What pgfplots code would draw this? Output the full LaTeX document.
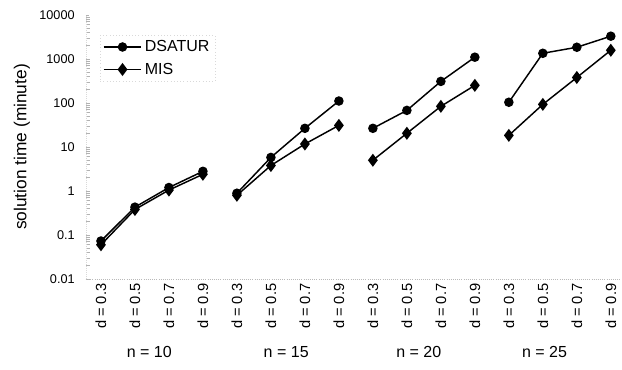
\documentclass[border=0pt]{standalone}
\usepackage{pgfplots}
\pgfplotsset{compat=1.18}
\usepackage{pgfplotstable}
\usepackage{fontspec}
\setmainfont{Liberation Sans}

\pgfplotstableread{
x dsatur mis
0 0.073 0.06
1 0.43 0.38
2 1.2 1.05
3 2.8 2.4
nan nan nan
4 0.89 0.8
5 5.8 3.8
6 26.6 11.7
7 111 31
nan nan nan
8 26.6 5.0
9 68 20.5
10 310 84
11 1100 252
nan nan nan
12 104 18.4
13 1350 93
14 1850 380
15 3300 1580
}\data

\begin{document}
\begin{tikzpicture}
\begin{axis}[
  at={(0,0)}, anchor=south west,
  scale only axis, width=400.5pt, height=198pt,
  ymode=log, ymin=0.01, ymax=10000,
  xmin=-0.44, xmax=15.27,
  xtick={0,...,15},
  xticklabels={d = 0.3,d = 0.5,d = 0.7,d = 0.9,d = 0.3,d = 0.5,d = 0.7,d = 0.9,d = 0.3,d = 0.5,d = 0.7,d = 0.9,d = 0.3,d = 0.5,d = 0.7,d = 0.9},
  ytick={0.01,0.1,1,10,100,1000,10000},
  yticklabels={0.01,0.1,1,10,100,1000,10000},
  minor ytick={},
  axis x line*=bottom, axis y line*=left,
  x axis line style={draw=gray!55, densely dotted, line width=0.6pt},
  y axis line style={draw=gray!30, densely dotted, line width=0.5pt},
  major tick length=2pt,
  tick style={draw=gray!60, solid, line width=0.6pt},
  xtick style={draw=none},
  xticklabel style={rotate=90, anchor=east, font=\fontsize{11}{12}\selectfont},
  yticklabel style={font=\fontsize{9.5}{11}\selectfont, xshift=-5pt},
  ylabel={solution time (minute)},
  ylabel style={at={(axis description cs:-0.12,0.5)}, anchor=center, font=\fontsize{13}{14}\selectfont},
  unbounded coords=jump,
  clip=false,
  legend style={at={(axis description cs:0.026,0.925)}, anchor=north west,
    draw=gray!30, dotted, fill=none, font=\fontsize{12}{14}\selectfont,
    inner sep=2pt, row sep=3pt},
  legend cell align=left,
  legend image code/.code={\draw[solid, mark repeat=2, mark phase=2] plot coordinates {(0cm,0cm) (0.5cm,0cm) (1cm,0cm)};},
]
\addplot[black, solid, line width=1.1pt, mark=*, mark size=3pt, mark options={solid}] table[x=x, y=dsatur] {\data};
\addlegendentry{DSATUR}
\addplot[black, solid, line width=1.1pt, mark=diamond*, mark size=4pt, mark options={solid}] table[x=x, y=mis] {\data};
\addlegendentry{MIS}
\node[font=\fontsize{12}{14}\selectfont] at (axis cs:1.42,0.01) [yshift=-55pt] {n = 10};
\node[font=\fontsize{12}{14}\selectfont] at (axis cs:5.45,0.01) [yshift=-55pt] {n = 15};
\node[font=\fontsize{12}{14}\selectfont] at (axis cs:9.35,0.01) [yshift=-55pt] {n = 20};
\node[font=\fontsize{12}{14}\selectfont] at (axis cs:13.05,0.01) [yshift=-55pt] {n = 25};
\end{axis}
\pgfresetboundingbox
\path (-64.5pt,-67.5pt) rectangle (402pt,209.25pt);
\end{tikzpicture}
\end{document}
